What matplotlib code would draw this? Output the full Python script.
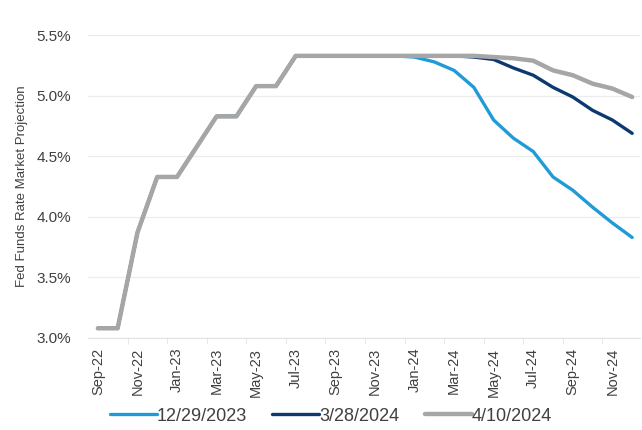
import matplotlib
matplotlib.use("Agg")
import matplotlib.pyplot as plt
from matplotlib.ticker import FuncFormatter, FixedLocator

plt.rcParams["font.family"] = ["Liberation Sans", "DejaVu Sans"]

months = ["Sep-22", "Oct-22", "Nov-22", "Dec-22", "Jan-23", "Feb-23", "Mar-23",
          "Apr-23", "May-23", "Jun-23", "Jul-23", "Aug-23", "Sep-23", "Oct-23",
          "Nov-23", "Dec-23", "Jan-24", "Feb-24", "Mar-24", "Apr-24", "May-24",
          "Jun-24", "Jul-24", "Aug-24", "Sep-24", "Oct-24", "Nov-24", "Dec-24"]

# realised path shared by all three curves (Sep-22 .. Dec-23)
history = [3.08, 3.08, 3.87, 4.33, 4.33, 4.58, 4.83, 4.83, 5.08, 5.08,
           5.33, 5.33, 5.33, 5.33, 5.33, 5.33]

proj_1229 = [5.32, 5.28, 5.21, 5.07, 4.80, 4.65, 4.54, 4.33, 4.22, 4.08, 3.95, 3.83]
proj_0328 = [5.33, 5.33, 5.33, 5.32, 5.30, 5.23, 5.17, 5.07, 4.99, 4.88, 4.80, 4.69]
proj_0410 = [5.33, 5.33, 5.33, 5.33, 5.32, 5.31, 5.29, 5.21, 5.17, 5.10, 5.06, 4.99]

s1229 = history + proj_1229
s0328 = history + proj_0328
s0410 = history + proj_0410

x = list(range(len(months)))

fig, ax = plt.subplots(figsize=(6.42, 4.30), dpi=100)
fig.subplots_adjust(left=0.137, right=0.997, top=0.918, bottom=0.214)

ax.plot(x, s1229, color="#1f9bd7", lw=2.4, label="12/29/2023", solid_capstyle="round")
ax.plot(x, s0328, color="#0c3a70", lw=2.4, label="3/28/2024", solid_capstyle="round")
ax.plot(x, s0410, color="#a6a6a6", lw=3.2, label="4/10/2024", solid_capstyle="round")

ax.set_ylim(3.0, 5.5)
ax.set_yticks([3.0, 3.5, 4.0, 4.5, 5.0, 5.5])
ax.yaxis.set_major_formatter(FuncFormatter(lambda v, p: f"{v:.1f}%"))
ax.set_xlim(-0.5, len(months) - 0.6)
ax.set_xticks(x[::2])
ax.set_xticklabels(months[::2], rotation=90)
ax.xaxis.set_minor_locator(FixedLocator([i + 1.5 for i in range(0, len(months) - 2, 2)]))

ax.grid(axis="y", color="#ececec", lw=0.9)
ax.set_axisbelow(True)
for side in ["top", "right", "left"]:
    ax.spines[side].set_visible(False)
ax.spines["bottom"].set_color("#e3e3e3")

ax.tick_params(axis="y", length=0, labelsize=11, colors="#404040", pad=12)
ax.tick_params(axis="x", which="major", length=0, labelsize=10.5, colors="#404040", pad=7)
ax.tick_params(axis="x", which="minor", length=4, color="#e3e3e3")

ax.set_ylabel("Fed Funds Rate Market Projection", fontsize=9.5, color="#404040", labelpad=6)

ax.legend(loc="lower center", bbox_to_anchor=(0.44, -0.34), ncol=3, frameon=False,
          fontsize=13, handlelength=2.6, handletextpad=0.0, columnspacing=1.4,
          labelcolor="#404040")

fig.savefig("out.png", dpi=100)
